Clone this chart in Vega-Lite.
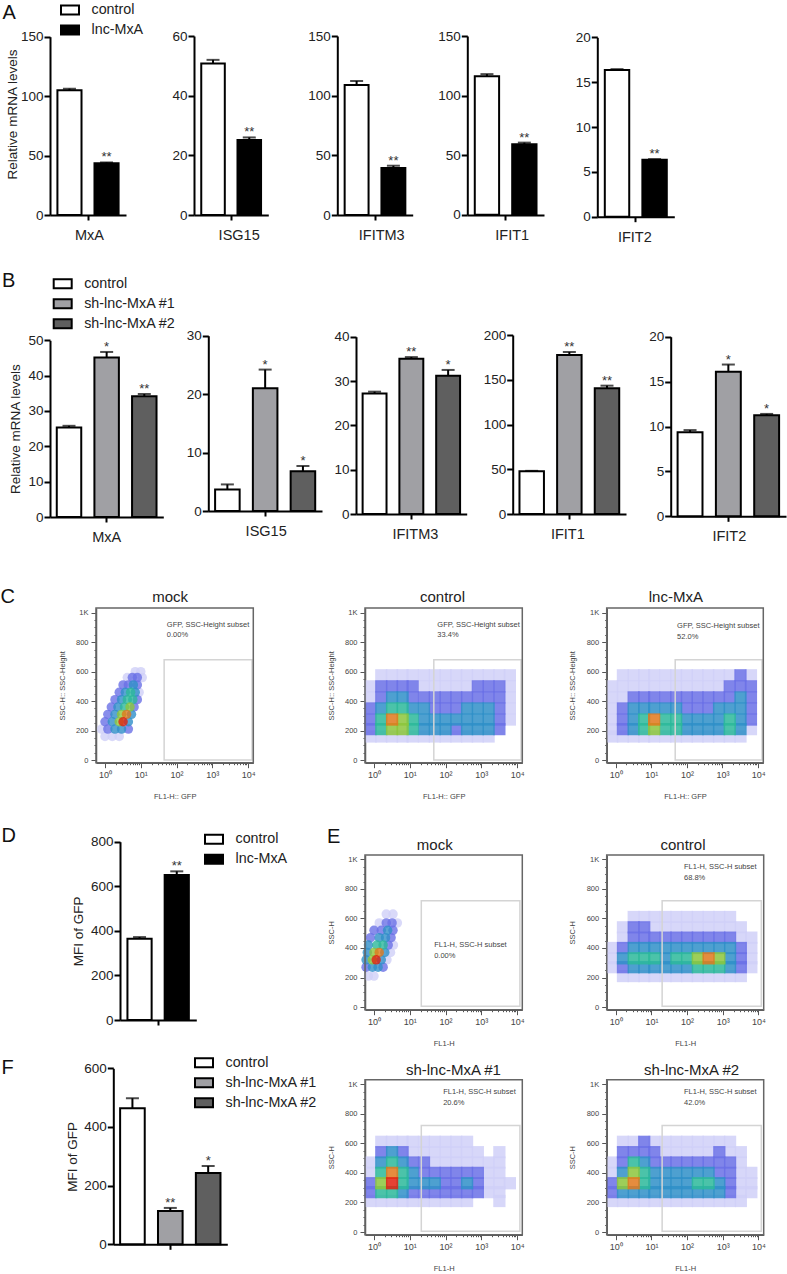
{"$schema":"https://vega.github.io/schema/vega-lite/v6.json","width":787,"height":1274,"autosize":{"type":"none"},"padding":0,"background":"white",
"config":{"font":"Liberation Sans","view":{"stroke":null},
"axis":{"grid":false,"domainColor":"black","domainWidth":2,"tickColor":"black","tickWidth":2,"tickSize":6,"labelFontSize":13.5,"labelColor":"#222","labelPadding":1,"titleFontWeight":"normal","titleFontSize":13.5,"titleColor":"#222","titleBaseline":"middle"},
"axisX":{"labelAngle":0,"tickSize":5,"labelFontSize":14.5,"labelPadding":8.5,"title":null},
"legend":{"title":null,"symbolType":"M-1,-0.5H1V0.5H-1Z","symbolSize":324,"symbolStrokeColor":"black","symbolStrokeWidth":2,"labelFontSize":14.3,"labelColor":"#222","labelOffset":11.5,"rowPadding":1,"symbolOpacity":1},
"style":{"flow":{"domainColor":"#555","domainWidth":1.5,"tickColor":"#555","tickWidth":1,"labelFontSize":7.5,"labelColor":"#444","labelPadding":3,"titleFontSize":7.5,"titleColor":"#444"},
"gate":{"fill":null,"fillOpacity":0,"stroke":"#d4d4d4","strokeWidth":1.5},"frame":{"fill":null,"fillOpacity":0,"stroke":"#666","strokeWidth":1.5},
"ttl":{"fontSize":15,"align":"center","baseline":"middle","color":"#222"},"sub":{"fontSize":7.5,"align":"left","baseline":"middle","color":"#444"},
"let":{"fontSize":20,"align":"left","baseline":"alphabetic","color":"#111"},"star":{"fontSize":13,"baseline":"alphabetic","dy":-1,"color":"#333"}}},
"datasets":{
"c1":[{"x":1,"y":160,"d":1},{"x":1.6,"y":160,"d":1},{"x":2.5,"y":160,"d":1},{"x":0.8,"y":210,"d":1},{"x":1.2,"y":210,"d":2},{"x":1.9,"y":210,"d":3},{"x":2.9,"y":210,"d":3},{"x":4.5,"y":210,"d":2},{"x":1,"y":260,"d":2},{"x":1.6,"y":260,"d":3},{"x":2.5,"y":260,"d":5},{"x":3.2,"y":260,"d":7},{"x":4.5,"y":260,"d":3},{"x":1.2,"y":310,"d":2},{"x":1.9,"y":310,"d":3},{"x":2.9,"y":310,"d":5},{"x":4,"y":310,"d":6},{"x":5.5,"y":310,"d":3},{"x":1.5,"y":360,"d":2},{"x":2.3,"y":360,"d":3},{"x":3.5,"y":360,"d":4},{"x":5,"y":360,"d":5},{"x":6.5,"y":360,"d":2},{"x":1.9,"y":410,"d":2},{"x":2.9,"y":410,"d":3},{"x":4.2,"y":410,"d":4},{"x":6,"y":410,"d":4},{"x":8,"y":410,"d":2},{"x":2.5,"y":460,"d":2},{"x":3.7,"y":460,"d":3},{"x":5.2,"y":460,"d":4},{"x":7,"y":460,"d":3},{"x":9,"y":460,"d":1},{"x":3.2,"y":510,"d":2},{"x":4.5,"y":510,"d":2},{"x":6.2,"y":510,"d":3},{"x":8,"y":510,"d":2},{"x":4.2,"y":560,"d":1},{"x":5.8,"y":560,"d":2},{"x":8,"y":560,"d":2},{"x":11,"y":560,"d":1},{"x":7,"y":600,"d":1},{"x":10,"y":600,"d":1}],
"c2":[{"x":1.6,"y":575,"d":1},{"x":3.2,"y":575,"d":1},{"x":6.3,"y":575,"d":1},{"x":12,"y":575,"d":1},{"x":25,"y":575,"d":1},{"x":50,"y":575,"d":1},{"x":100,"y":575,"d":1},{"x":200,"y":575,"d":1},{"x":400,"y":575,"d":1},{"x":800,"y":575,"d":1},{"x":1600,"y":575,"d":1},{"x":3200,"y":575,"d":1},{"x":6300,"y":575,"d":1},
{"x":0.8,"y":500,"d":1},{"x":1.6,"y":500,"d":2},{"x":3.2,"y":500,"d":2},{"x":6.3,"y":500,"d":2},{"x":12,"y":500,"d":2},{"x":25,"y":500,"d":1},{"x":50,"y":500,"d":1},{"x":100,"y":500,"d":1},{"x":200,"y":500,"d":1},{"x":400,"y":500,"d":1},{"x":800,"y":500,"d":2},{"x":1600,"y":500,"d":2},{"x":3200,"y":500,"d":2},{"x":6300,"y":500,"d":1},
{"x":0.8,"y":425,"d":1},{"x":1.6,"y":425,"d":2},{"x":3.2,"y":425,"d":3},{"x":6.3,"y":425,"d":3},{"x":12,"y":425,"d":2},{"x":25,"y":425,"d":2},{"x":50,"y":425,"d":2},{"x":100,"y":425,"d":2},{"x":200,"y":425,"d":2},{"x":400,"y":425,"d":2},{"x":800,"y":425,"d":2},{"x":1600,"y":425,"d":2},{"x":3200,"y":425,"d":2},{"x":6300,"y":425,"d":1},
{"x":0.8,"y":350,"d":2},{"x":1.6,"y":350,"d":3},{"x":3.2,"y":350,"d":4},{"x":6.3,"y":350,"d":4},{"x":12,"y":350,"d":3},{"x":25,"y":350,"d":3},{"x":50,"y":350,"d":2},{"x":100,"y":350,"d":2},{"x":200,"y":350,"d":2},{"x":400,"y":350,"d":3},{"x":800,"y":350,"d":3},{"x":1600,"y":350,"d":3},{"x":3200,"y":350,"d":2},{"x":6300,"y":350,"d":1},
{"x":0.8,"y":275,"d":2},{"x":1.6,"y":275,"d":4},{"x":3.2,"y":275,"d":6},{"x":6.3,"y":275,"d":5},{"x":12,"y":275,"d":4},{"x":25,"y":275,"d":3},{"x":50,"y":275,"d":3},{"x":100,"y":275,"d":3},{"x":200,"y":275,"d":3},{"x":400,"y":275,"d":3},{"x":800,"y":275,"d":3},{"x":1600,"y":275,"d":3},{"x":3200,"y":275,"d":2},{"x":6300,"y":275,"d":1},
{"x":0.8,"y":210,"d":2},{"x":1.6,"y":210,"d":4},{"x":3.2,"y":210,"d":5},{"x":6.3,"y":210,"d":5},{"x":12,"y":210,"d":4},{"x":25,"y":210,"d":3},{"x":50,"y":210,"d":3},{"x":100,"y":210,"d":3},{"x":200,"y":210,"d":2},{"x":400,"y":210,"d":3},{"x":800,"y":210,"d":3},{"x":1600,"y":210,"d":3},{"x":3200,"y":210,"d":2},
{"x":0.8,"y":160,"d":1},{"x":1.6,"y":160,"d":1},{"x":3.2,"y":160,"d":1},{"x":6.3,"y":160,"d":1},{"x":12,"y":160,"d":1},{"x":25,"y":160,"d":1},{"x":50,"y":160,"d":1},{"x":100,"y":160,"d":1},{"x":200,"y":160,"d":1},{"x":400,"y":160,"d":1},{"x":800,"y":160,"d":1},{"x":1600,"y":160,"d":1}],
"c3":[{"x":1.6,"y":575,"d":1},{"x":3.2,"y":575,"d":1},{"x":6.3,"y":575,"d":1},{"x":12,"y":575,"d":1},{"x":25,"y":575,"d":1},{"x":50,"y":575,"d":1},{"x":100,"y":575,"d":1},{"x":200,"y":575,"d":1},{"x":400,"y":575,"d":1},{"x":800,"y":575,"d":1},{"x":1600,"y":575,"d":1},{"x":3200,"y":575,"d":2},{"x":6300,"y":575,"d":1},
{"x":0.8,"y":500,"d":1},{"x":1.6,"y":500,"d":1},{"x":3.2,"y":500,"d":1},{"x":6.3,"y":500,"d":1},{"x":12,"y":500,"d":1},{"x":25,"y":500,"d":1},{"x":50,"y":500,"d":1},{"x":100,"y":500,"d":1},{"x":200,"y":500,"d":1},{"x":400,"y":500,"d":1},{"x":800,"y":500,"d":1},{"x":1600,"y":500,"d":2},{"x":3200,"y":500,"d":2},{"x":6300,"y":500,"d":2},
{"x":0.8,"y":425,"d":1},{"x":1.6,"y":425,"d":1},{"x":3.2,"y":425,"d":2},{"x":6.3,"y":425,"d":2},{"x":12,"y":425,"d":2},{"x":25,"y":425,"d":2},{"x":50,"y":425,"d":2},{"x":100,"y":425,"d":2},{"x":200,"y":425,"d":2},{"x":400,"y":425,"d":2},{"x":800,"y":425,"d":2},{"x":1600,"y":425,"d":2},{"x":3200,"y":425,"d":3},{"x":6300,"y":425,"d":2},
{"x":0.8,"y":350,"d":1},{"x":1.6,"y":350,"d":2},{"x":3.2,"y":350,"d":3},{"x":6.3,"y":350,"d":3},{"x":12,"y":350,"d":3},{"x":25,"y":350,"d":3},{"x":50,"y":350,"d":3},{"x":100,"y":350,"d":2},{"x":200,"y":350,"d":2},{"x":400,"y":350,"d":2},{"x":800,"y":350,"d":3},{"x":1600,"y":350,"d":3},{"x":3200,"y":350,"d":3},{"x":6300,"y":350,"d":2},
{"x":0.8,"y":275,"d":1},{"x":1.6,"y":275,"d":2},{"x":3.2,"y":275,"d":3},{"x":6.3,"y":275,"d":4},{"x":12,"y":275,"d":6},{"x":25,"y":275,"d":4},{"x":50,"y":275,"d":4},{"x":100,"y":275,"d":3},{"x":200,"y":275,"d":3},{"x":400,"y":275,"d":3},{"x":800,"y":275,"d":3},{"x":1600,"y":275,"d":4},{"x":3200,"y":275,"d":3},{"x":6300,"y":275,"d":2},
{"x":0.8,"y":210,"d":1},{"x":1.6,"y":210,"d":2},{"x":3.2,"y":210,"d":3},{"x":6.3,"y":210,"d":4},{"x":12,"y":210,"d":5},{"x":25,"y":210,"d":4},{"x":50,"y":210,"d":4},{"x":100,"y":210,"d":3},{"x":200,"y":210,"d":3},{"x":400,"y":210,"d":3},{"x":800,"y":210,"d":3},{"x":1600,"y":210,"d":4},{"x":3200,"y":210,"d":3},{"x":6300,"y":210,"d":1},
{"x":0.8,"y":160,"d":1},{"x":1.6,"y":160,"d":1},{"x":3.2,"y":160,"d":1},{"x":6.3,"y":160,"d":1},{"x":12,"y":160,"d":1},{"x":25,"y":160,"d":1},{"x":50,"y":160,"d":1},{"x":100,"y":160,"d":1},{"x":200,"y":160,"d":1},{"x":400,"y":160,"d":1},{"x":800,"y":160,"d":1},{"x":1600,"y":160,"d":1},{"x":3200,"y":160,"d":1}],
"e1":[{"x":0.7,"y":210,"d":1},{"x":1,"y":210,"d":1},{"x":0.6,"y":270,"d":2},{"x":0.9,"y":270,"d":3},{"x":1.3,"y":270,"d":3},{"x":1.8,"y":270,"d":2},{"x":0.6,"y":320,"d":3},{"x":0.9,"y":320,"d":5},{"x":1.15,"y":320,"d":7},{"x":1.6,"y":320,"d":3},{"x":2.3,"y":320,"d":1},{"x":0.65,"y":370,"d":3},{"x":1,"y":370,"d":5},{"x":1.4,"y":370,"d":6},{"x":2,"y":370,"d":3},{"x":2.9,"y":370,"d":1},{"x":0.7,"y":420,"d":3},{"x":1.2,"y":420,"d":4},{"x":1.8,"y":420,"d":4},{"x":2.5,"y":420,"d":2},{"x":3.5,"y":420,"d":1},{"x":0.8,"y":470,"d":2},{"x":1.4,"y":470,"d":3},{"x":2.1,"y":470,"d":3},{"x":3,"y":470,"d":2},{"x":1,"y":520,"d":2},{"x":1.6,"y":520,"d":2},{"x":2.4,"y":520,"d":3},{"x":3.4,"y":520,"d":2},{"x":1.4,"y":570,"d":1},{"x":2.2,"y":570,"d":2},{"x":3.2,"y":570,"d":2},{"x":4.5,"y":570,"d":1},{"x":2.2,"y":630,"d":1},{"x":3.4,"y":630,"d":1}],
"e2":[{"x":3.2,"y":610,"d":1},{"x":6.3,"y":610,"d":1},{"x":12,"y":610,"d":1},{"x":25,"y":610,"d":1},{"x":50,"y":610,"d":1},{"x":100,"y":610,"d":1},{"x":200,"y":610,"d":1},{"x":400,"y":610,"d":1},{"x":800,"y":610,"d":1},{"x":1600,"y":610,"d":1},
{"x":1.6,"y":540,"d":1},{"x":3.2,"y":540,"d":2},{"x":6.3,"y":540,"d":2},{"x":12,"y":540,"d":1},{"x":25,"y":540,"d":1},{"x":50,"y":540,"d":1},{"x":100,"y":540,"d":1},{"x":200,"y":540,"d":1},{"x":400,"y":540,"d":1},{"x":800,"y":540,"d":1},{"x":1600,"y":540,"d":1},{"x":3200,"y":540,"d":1},
{"x":1.6,"y":470,"d":1},{"x":3.2,"y":470,"d":2},{"x":6.3,"y":470,"d":2},{"x":12,"y":470,"d":2},{"x":25,"y":470,"d":2},{"x":50,"y":470,"d":2},{"x":100,"y":470,"d":2},{"x":200,"y":470,"d":2},{"x":400,"y":470,"d":2},{"x":800,"y":470,"d":2},{"x":1600,"y":470,"d":2},{"x":3200,"y":470,"d":1},{"x":6300,"y":470,"d":1},
{"x":0.8,"y":400,"d":1},{"x":1.6,"y":400,"d":2},{"x":3.2,"y":400,"d":3},{"x":6.3,"y":400,"d":3},{"x":12,"y":400,"d":3},{"x":25,"y":400,"d":3},{"x":50,"y":400,"d":3},{"x":100,"y":400,"d":3},{"x":200,"y":400,"d":3},{"x":400,"y":400,"d":3},{"x":800,"y":400,"d":3},{"x":1600,"y":400,"d":3},{"x":3200,"y":400,"d":2},{"x":6300,"y":400,"d":1},
{"x":0.8,"y":330,"d":1},{"x":1.6,"y":330,"d":3},{"x":3.2,"y":330,"d":4},{"x":6.3,"y":330,"d":4},{"x":12,"y":330,"d":4},{"x":25,"y":330,"d":3},{"x":50,"y":330,"d":4},{"x":100,"y":330,"d":4},{"x":200,"y":330,"d":5},{"x":400,"y":330,"d":6},{"x":800,"y":330,"d":5},{"x":1600,"y":330,"d":3},{"x":3200,"y":330,"d":2},{"x":6300,"y":330,"d":1},
{"x":0.8,"y":270,"d":1},{"x":1.6,"y":270,"d":2},{"x":3.2,"y":270,"d":3},{"x":6.3,"y":270,"d":3},{"x":12,"y":270,"d":3},{"x":25,"y":270,"d":3},{"x":50,"y":270,"d":3},{"x":100,"y":270,"d":3},{"x":200,"y":270,"d":4},{"x":400,"y":270,"d":4},{"x":800,"y":270,"d":4},{"x":1600,"y":270,"d":3},{"x":3200,"y":270,"d":2},{"x":6300,"y":270,"d":1},
{"x":1.6,"y":210,"d":1},{"x":3.2,"y":210,"d":1},{"x":6.3,"y":210,"d":1},{"x":12,"y":210,"d":1},{"x":25,"y":210,"d":1},{"x":50,"y":210,"d":1},{"x":100,"y":210,"d":1},{"x":200,"y":210,"d":1},{"x":400,"y":210,"d":1},{"x":800,"y":210,"d":1},{"x":1600,"y":210,"d":1},{"x":3200,"y":210,"d":1}],
"f1":[{"x":1.6,"y":610,"d":1},{"x":3.2,"y":610,"d":1},{"x":6.3,"y":610,"d":1},{"x":12,"y":610,"d":1},{"x":25,"y":610,"d":1},{"x":50,"y":610,"d":1},{"x":100,"y":610,"d":1},{"x":200,"y":610,"d":1},{"x":400,"y":610,"d":1},
{"x":1.6,"y":540,"d":2},{"x":3.2,"y":540,"d":3},{"x":6.3,"y":540,"d":2},{"x":12,"y":540,"d":1},{"x":25,"y":540,"d":1},{"x":50,"y":540,"d":1},{"x":100,"y":540,"d":1},{"x":200,"y":540,"d":1},{"x":400,"y":540,"d":1},{"x":800,"y":540,"d":1},{"x":3200,"y":540,"d":1},
{"x":0.8,"y":470,"d":1},{"x":1.6,"y":470,"d":3},{"x":3.2,"y":470,"d":4},{"x":6.3,"y":470,"d":3},{"x":12,"y":470,"d":2},{"x":25,"y":470,"d":2},{"x":50,"y":470,"d":1},{"x":100,"y":470,"d":1},{"x":200,"y":470,"d":1},{"x":400,"y":470,"d":1},{"x":800,"y":470,"d":1},{"x":1600,"y":470,"d":1},{"x":3200,"y":470,"d":1},
{"x":0.8,"y":400,"d":1},{"x":1.6,"y":400,"d":4},{"x":3.2,"y":400,"d":6},{"x":6.3,"y":400,"d":4},{"x":12,"y":400,"d":3},{"x":25,"y":400,"d":2},{"x":50,"y":400,"d":2},{"x":100,"y":400,"d":2},{"x":200,"y":400,"d":2},{"x":400,"y":400,"d":2},{"x":800,"y":400,"d":2},{"x":1600,"y":400,"d":1},{"x":3200,"y":400,"d":1},
{"x":0.8,"y":330,"d":2},{"x":1.6,"y":330,"d":5},{"x":3.2,"y":330,"d":7},{"x":6.3,"y":330,"d":4},{"x":12,"y":330,"d":3},{"x":25,"y":330,"d":3},{"x":50,"y":330,"d":3},{"x":100,"y":330,"d":2},{"x":200,"y":330,"d":2},{"x":400,"y":330,"d":3},{"x":800,"y":330,"d":2},{"x":1600,"y":330,"d":1},{"x":3200,"y":330,"d":1},{"x":6300,"y":330,"d":1},
{"x":0.8,"y":270,"d":2},{"x":1.6,"y":270,"d":4},{"x":3.2,"y":270,"d":4},{"x":6.3,"y":270,"d":3},{"x":12,"y":270,"d":2},{"x":25,"y":270,"d":2},{"x":50,"y":270,"d":2},{"x":100,"y":270,"d":2},{"x":200,"y":270,"d":2},{"x":400,"y":270,"d":2},{"x":800,"y":270,"d":2},{"x":1600,"y":270,"d":1},{"x":3200,"y":270,"d":1},
{"x":0.8,"y":210,"d":1},{"x":1.6,"y":210,"d":1},{"x":3.2,"y":210,"d":1},{"x":6.3,"y":210,"d":1},{"x":12,"y":210,"d":1},{"x":25,"y":210,"d":1},{"x":50,"y":210,"d":1},{"x":100,"y":210,"d":1},{"x":200,"y":210,"d":1},{"x":400,"y":210,"d":1},{"x":3200,"y":210,"d":1}],
"f2":[{"x":1.6,"y":610,"d":1},{"x":3.2,"y":610,"d":1},{"x":6.3,"y":610,"d":2},{"x":12,"y":610,"d":1},{"x":25,"y":610,"d":1},{"x":50,"y":610,"d":1},{"x":100,"y":610,"d":1},{"x":200,"y":610,"d":1},{"x":400,"y":610,"d":1},{"x":800,"y":610,"d":1},{"x":1600,"y":610,"d":1},
{"x":1.6,"y":540,"d":2},{"x":3.2,"y":540,"d":2},{"x":6.3,"y":540,"d":2},{"x":12,"y":540,"d":2},{"x":25,"y":540,"d":1},{"x":50,"y":540,"d":1},{"x":100,"y":540,"d":1},{"x":200,"y":540,"d":1},{"x":400,"y":540,"d":1},{"x":800,"y":540,"d":2},{"x":1600,"y":540,"d":1},{"x":3200,"y":540,"d":1},
{"x":0.8,"y":470,"d":1},{"x":1.6,"y":470,"d":2},{"x":3.2,"y":470,"d":4},{"x":6.3,"y":470,"d":3},{"x":12,"y":470,"d":2},{"x":25,"y":470,"d":2},{"x":50,"y":470,"d":2},{"x":100,"y":470,"d":2},{"x":200,"y":470,"d":2},{"x":400,"y":470,"d":2},{"x":800,"y":470,"d":2},{"x":1600,"y":470,"d":2},{"x":3200,"y":470,"d":1},
{"x":0.8,"y":400,"d":1},{"x":1.6,"y":400,"d":3},{"x":3.2,"y":400,"d":5},{"x":6.3,"y":400,"d":4},{"x":12,"y":400,"d":3},{"x":25,"y":400,"d":3},{"x":50,"y":400,"d":3},{"x":100,"y":400,"d":3},{"x":200,"y":400,"d":3},{"x":400,"y":400,"d":3},{"x":800,"y":400,"d":2},{"x":1600,"y":400,"d":2},{"x":3200,"y":400,"d":1},{"x":6300,"y":400,"d":1},
{"x":0.8,"y":330,"d":2},{"x":1.6,"y":330,"d":5},{"x":3.2,"y":330,"d":6},{"x":6.3,"y":330,"d":4},{"x":12,"y":330,"d":3},{"x":25,"y":330,"d":3},{"x":50,"y":330,"d":3},{"x":100,"y":330,"d":3},{"x":200,"y":330,"d":4},{"x":400,"y":330,"d":4},{"x":800,"y":330,"d":3},{"x":1600,"y":330,"d":2},{"x":3200,"y":330,"d":1},{"x":6300,"y":330,"d":1},
{"x":0.8,"y":270,"d":2},{"x":1.6,"y":270,"d":3},{"x":3.2,"y":270,"d":3},{"x":6.3,"y":270,"d":3},{"x":12,"y":270,"d":3},{"x":25,"y":270,"d":3},{"x":50,"y":270,"d":3},{"x":100,"y":270,"d":3},{"x":200,"y":270,"d":3},{"x":400,"y":270,"d":3},{"x":800,"y":270,"d":3},{"x":1600,"y":270,"d":2},{"x":3200,"y":270,"d":1},{"x":6300,"y":270,"d":1},
{"x":0.8,"y":210,"d":1},{"x":1.6,"y":210,"d":1},{"x":3.2,"y":210,"d":1},{"x":6.3,"y":210,"d":1},{"x":12,"y":210,"d":1},{"x":25,"y":210,"d":1},{"x":50,"y":210,"d":1},{"x":100,"y":210,"d":1},{"x":200,"y":210,"d":1},{"x":400,"y":210,"d":1},{"x":800,"y":210,"d":1},{"x":1600,"y":210,"d":1},{"x":3200,"y":210,"d":1}]
},
"layer":[
{"data":{"values":[{"n":"MxA","g":"control","v":105,"e":106.3,"s":""},{"n":"MxA","g":"lnc-MxA","v":43.6,"e":44.2,"s":"**"}]},"encoding":{"x":{"field":"n","type":"nominal","scale":{"range":[50,126],"paddingInner":0,"paddingOuter":0},"axis":{"orient":"bottom","offset":-1059,"labelOffset":1.5}},"xOffset":{"field":"g","type":"nominal","scale":{"paddingInner":0.35,"paddingOuter":0.2}},"y":{"field":"v","type":"quantitative","scale":{"domain":[0,150],"range":[215,36.7],"nice":false},"axis":{"orient":"left","offset":-50,"values":[0,50,100,150],"title":"Relative mRNA levels","titleX":-38,"titleY":114}}},
"layer":[{"mark":{"type":"bar","stroke":"black","strokeWidth":2},"encoding":{"color":{"field":"g","type":"nominal","scale":{"domain":["control","lnc-MxA"],"range":["#ffffff","#000000"]},"legend":{"orient":"none","legendX":60,"legendY":0}}}},{"mark":{"type":"rule","color":"black","strokeWidth":2},"encoding":{"y2":{"field":"e"}}},{"mark":{"type":"tick","color":"black","thickness":2,"size":13},"encoding":{"y":{"field":"e","type":"quantitative"}}},{"mark":{"type":"text","style":"star"},"encoding":{"y":{"field":"e","type":"quantitative"},"text":{"field":"s"}}},{"data":{"values":[{"n":"MxA","g":"control","v":165,"s":"A"}]},"mark":{"type":"text","style":"let","dx":-67},"encoding":{"text":{"field":"s"}}}]},
{"data":{"values":[{"n":"ISG15","g":"control","v":50.8,"e":52,"s":""},{"n":"ISG15","g":"lnc-MxA","v":25.1,"e":26,"s":"**"}]},"encoding":{"x":{"field":"n","type":"nominal","scale":{"range":[194,268.3],"paddingInner":0,"paddingOuter":0},"axis":{"orient":"bottom","offset":-1059,"labelOffset":8}},"xOffset":{"field":"g","type":"nominal","scale":{"paddingInner":0.35,"paddingOuter":0.2}},"y":{"field":"v","type":"quantitative","scale":{"domain":[0,60],"range":[215,36],"nice":false},"axis":{"orient":"left","offset":-194,"values":[0,20,40,60],"title":null}}},
"layer":[{"mark":{"type":"bar","stroke":"black","strokeWidth":2},"encoding":{"color":{"field":"g","type":"nominal","scale":{"domain":["control","lnc-MxA"],"range":["#ffffff","#000000"]},"legend":null}}},{"mark":{"type":"rule","color":"black","strokeWidth":2},"encoding":{"y2":{"field":"e"}}},{"mark":{"type":"tick","color":"black","thickness":2,"size":13},"encoding":{"y":{"field":"e","type":"quantitative"}}},{"mark":{"type":"text","style":"star"},"encoding":{"y":{"field":"e","type":"quantitative"},"text":{"field":"s"}}}]},
{"data":{"values":[{"n":"IFITM3","g":"control","v":108.9,"e":112.3,"s":""},{"n":"IFITM3","g":"lnc-MxA","v":39.3,"e":41.3,"s":"**"}]},"encoding":{"x":{"field":"n","type":"nominal","scale":{"range":[337.3,412.7],"paddingInner":0,"paddingOuter":0},"axis":{"orient":"bottom","offset":-1059,"labelOffset":6.7}},"xOffset":{"field":"g","type":"nominal","scale":{"paddingInner":0.35,"paddingOuter":0.2}},"y":{"field":"v","type":"quantitative","scale":{"domain":[0,150],"range":[215,36],"nice":false},"axis":{"orient":"left","offset":-337.3,"values":[0,50,100,150],"title":null}}},
"layer":[{"mark":{"type":"bar","stroke":"black","strokeWidth":2},"encoding":{"color":{"field":"g","type":"nominal","scale":{"domain":["control","lnc-MxA"],"range":["#ffffff","#000000"]},"legend":null}}},{"mark":{"type":"rule","color":"black","strokeWidth":2},"encoding":{"y2":{"field":"e"}}},{"mark":{"type":"tick","color":"black","thickness":2,"size":13},"encoding":{"y":{"field":"e","type":"quantitative"}}},{"mark":{"type":"text","style":"star"},"encoding":{"y":{"field":"e","type":"quantitative"},"text":{"field":"s"}}}]},
{"data":{"values":[{"n":"IFIT1","g":"control","v":116.2,"e":118,"s":""},{"n":"IFIT1","g":"lnc-MxA","v":59.1,"e":60.5,"s":"**"}]},"encoding":{"x":{"field":"n","type":"nominal","scale":{"range":[467.3,544],"paddingInner":0,"paddingOuter":0},"axis":{"orient":"bottom","offset":-1059,"labelOffset":6.6}},"xOffset":{"field":"g","type":"nominal","scale":{"paddingInner":0.35,"paddingOuter":0.2}},"y":{"field":"v","type":"quantitative","scale":{"domain":[0,150],"range":[214.7,36],"nice":false},"axis":{"orient":"left","offset":-467.3,"values":[0,50,100,150],"title":null}}},
"layer":[{"mark":{"type":"bar","stroke":"black","strokeWidth":2},"encoding":{"color":{"field":"g","type":"nominal","scale":{"domain":["control","lnc-MxA"],"range":["#ffffff","#000000"]},"legend":null}}},{"mark":{"type":"rule","color":"black","strokeWidth":2},"encoding":{"y2":{"field":"e"}}},{"mark":{"type":"tick","color":"black","thickness":2,"size":13},"encoding":{"y":{"field":"e","type":"quantitative"}}},{"mark":{"type":"text","style":"star"},"encoding":{"y":{"field":"e","type":"quantitative"},"text":{"field":"s"}}}]},
{"data":{"values":[{"n":"IFIT2","g":"control","v":16.35,"e":16.45,"s":""},{"n":"IFIT2","g":"lnc-MxA","v":6.35,"e":6.42,"s":"**"}]},"encoding":{"x":{"field":"n","type":"nominal","scale":{"range":[597.3,674.3],"paddingInner":0,"paddingOuter":0},"axis":{"orient":"bottom","offset":-1057.3,"labelOffset":-1}},"xOffset":{"field":"g","type":"nominal","scale":{"paddingInner":0.35,"paddingOuter":0.2}},"y":{"field":"v","type":"quantitative","scale":{"domain":[0,20],"range":[216.7,37.3],"nice":false},"axis":{"orient":"left","offset":-597.3,"values":[0,5,10,15,20],"title":null}}},
"layer":[{"mark":{"type":"bar","stroke":"black","strokeWidth":2},"encoding":{"color":{"field":"g","type":"nominal","scale":{"domain":["control","lnc-MxA"],"range":["#ffffff","#000000"]},"legend":null}}},{"mark":{"type":"rule","color":"black","strokeWidth":2},"encoding":{"y2":{"field":"e"}}},{"mark":{"type":"tick","color":"black","thickness":2,"size":13},"encoding":{"y":{"field":"e","type":"quantitative"}}},{"mark":{"type":"text","style":"star"},"encoding":{"y":{"field":"e","type":"quantitative"},"text":{"field":"s"}}}]},
{"data":{"values":[{"n":"MxA","g":"control","v":25.3,"e":25.8,"s":""},{"n":"MxA","g":"sh-lnc-MxA #1","v":45.1,"e":46.7,"s":"*"},{"n":"MxA","g":"sh-lnc-MxA #2","v":34.2,"e":34.8,"s":"**"}]},"encoding":{"x":{"field":"n","type":"nominal","scale":{"range":[50,163.3],"paddingInner":0,"paddingOuter":0},"axis":{"orient":"bottom","offset":-757}},"xOffset":{"field":"g","type":"nominal","scale":{"paddingInner":0.35,"paddingOuter":0.18}},"y":{"field":"v","type":"quantitative","scale":{"domain":[0,50],"range":[517,340.3],"nice":false},"axis":{"orient":"left","offset":-50,"values":[0,10,20,30,40,50],"title":"Relative mRNA levels","titleX":-35}}},
"layer":[{"mark":{"type":"bar","stroke":"black","strokeWidth":2},"encoding":{"color":{"field":"g","type":"nominal","scale":{"domain":["control","sh-lnc-MxA #1","sh-lnc-MxA #2"],"range":["#ffffff","#a0a0a4","#5f5f5f"]},"legend":{"orient":"none","legendX":52.7,"legendY":273.7}}}},{"mark":{"type":"rule","color":"black","strokeWidth":2},"encoding":{"y2":{"field":"e"}}},{"mark":{"type":"tick","color":"black","thickness":2,"size":13},"encoding":{"y":{"field":"e","type":"quantitative"}}},{"mark":{"type":"text","style":"star"},"encoding":{"y":{"field":"e","type":"quantitative"},"text":{"field":"s"}}},{"data":{"values":[{"n":"MxA","g":"control","v":65.2,"s":"B"}]},"mark":{"type":"text","style":"let","dx":-67},"encoding":{"text":{"field":"s"}}}]},
{"data":{"values":[{"n":"ISG15","g":"control","v":3.7,"e":4.55,"s":""},{"n":"ISG15","g":"sh-lnc-MxA #1","v":21,"e":24.2,"s":"*"},{"n":"ISG15","g":"sh-lnc-MxA #2","v":6.8,"e":7.7,"s":"*"}]},"encoding":{"x":{"field":"n","type":"nominal","scale":{"range":[208.3,322],"paddingInner":0,"paddingOuter":0},"axis":{"orient":"bottom","offset":-763,"labelOffset":1}},"xOffset":{"field":"g","type":"nominal","scale":{"paddingInner":0.35,"paddingOuter":0.18}},"y":{"field":"v","type":"quantitative","scale":{"domain":[0,30],"range":[511,335.7],"nice":false},"axis":{"orient":"left","offset":-208.3,"values":[0,10,20,30],"title":null}}},
"layer":[{"mark":{"type":"bar","stroke":"black","strokeWidth":2},"encoding":{"color":{"field":"g","type":"nominal","scale":{"domain":["control","sh-lnc-MxA #1","sh-lnc-MxA #2"],"range":["#ffffff","#a0a0a4","#5f5f5f"]},"legend":null}}},{"mark":{"type":"rule","color":"black","strokeWidth":2},"encoding":{"y2":{"field":"e"}}},{"mark":{"type":"tick","color":"black","thickness":2,"size":13},"encoding":{"y":{"field":"e","type":"quantitative"}}},{"mark":{"type":"text","style":"star"},"encoding":{"y":{"field":"e","type":"quantitative"},"text":{"field":"s"}}}]},
{"data":{"values":[{"n":"IFITM3","g":"control","v":27.2,"e":27.6,"s":""},{"n":"IFITM3","g":"sh-lnc-MxA #1","v":35,"e":35.4,"s":"**"},{"n":"IFITM3","g":"sh-lnc-MxA #2","v":31.2,"e":32.5,"s":"*"}]},"encoding":{"x":{"field":"n","type":"nominal","scale":{"range":[356,466.7],"paddingInner":0,"paddingOuter":0},"axis":{"orient":"bottom","offset":-760,"labelOffset":4}},"xOffset":{"field":"g","type":"nominal","scale":{"paddingInner":0.35,"paddingOuter":0.18}},"y":{"field":"v","type":"quantitative","scale":{"domain":[0,40],"range":[514,336.7],"nice":false},"axis":{"orient":"left","offset":-356,"values":[0,10,20,30,40],"title":null}}},
"layer":[{"mark":{"type":"bar","stroke":"black","strokeWidth":2},"encoding":{"color":{"field":"g","type":"nominal","scale":{"domain":["control","sh-lnc-MxA #1","sh-lnc-MxA #2"],"range":["#ffffff","#a0a0a4","#5f5f5f"]},"legend":null}}},{"mark":{"type":"rule","color":"black","strokeWidth":2},"encoding":{"y2":{"field":"e"}}},{"mark":{"type":"tick","color":"black","thickness":2,"size":13},"encoding":{"y":{"field":"e","type":"quantitative"}}},{"mark":{"type":"text","style":"star"},"encoding":{"y":{"field":"e","type":"quantitative"},"text":{"field":"s"}}}]},
{"data":{"values":[{"n":"IFIT1","g":"control","v":47.7,"e":48.2,"s":""},{"n":"IFIT1","g":"sh-lnc-MxA #1","v":177.6,"e":181,"s":"**"},{"n":"IFIT1","g":"sh-lnc-MxA #2","v":140.4,"e":143.4,"s":"**"}]},"encoding":{"x":{"field":"n","type":"nominal","scale":{"range":[512.7,626],"paddingInner":0,"paddingOuter":0},"axis":{"orient":"bottom","offset":-760,"labelOffset":-1.5}},"xOffset":{"field":"g","type":"nominal","scale":{"paddingInner":0.35,"paddingOuter":0.18}},"y":{"field":"v","type":"quantitative","scale":{"domain":[0,200],"range":[514,335],"nice":false},"axis":{"orient":"left","offset":-512.7,"values":[0,50,100,150,200],"title":null}}},
"layer":[{"mark":{"type":"bar","stroke":"black","strokeWidth":2},"encoding":{"color":{"field":"g","type":"nominal","scale":{"domain":["control","sh-lnc-MxA #1","sh-lnc-MxA #2"],"range":["#ffffff","#a0a0a4","#5f5f5f"]},"legend":null}}},{"mark":{"type":"rule","color":"black","strokeWidth":2},"encoding":{"y2":{"field":"e"}}},{"mark":{"type":"tick","color":"black","thickness":2,"size":13},"encoding":{"y":{"field":"e","type":"quantitative"}}},{"mark":{"type":"text","style":"star"},"encoding":{"y":{"field":"e","type":"quantitative"},"text":{"field":"s"}}}]},
{"data":{"values":[{"n":"IFIT2","g":"control","v":9.35,"e":9.6,"s":""},{"n":"IFIT2","g":"sh-lnc-MxA #1","v":16.1,"e":16.9,"s":"*"},{"n":"IFIT2","g":"sh-lnc-MxA #2","v":11.25,"e":11.4,"s":"*"}]},"encoding":{"x":{"field":"n","type":"nominal","scale":{"range":[670.7,786],"paddingInner":0,"paddingOuter":0},"axis":{"orient":"bottom","offset":-757.7,"labelOffset":1}},"xOffset":{"field":"g","type":"nominal","scale":{"paddingInner":0.35,"paddingOuter":0.18}},"y":{"field":"v","type":"quantitative","scale":{"domain":[0,20],"range":[516.3,336.7],"nice":false},"axis":{"orient":"left","offset":-670.7,"values":[0,5,10,15,20],"title":null}}},
"layer":[{"mark":{"type":"bar","stroke":"black","strokeWidth":2},"encoding":{"color":{"field":"g","type":"nominal","scale":{"domain":["control","sh-lnc-MxA #1","sh-lnc-MxA #2"],"range":["#ffffff","#a0a0a4","#5f5f5f"]},"legend":null}}},{"mark":{"type":"rule","color":"black","strokeWidth":2},"encoding":{"y2":{"field":"e"}}},{"mark":{"type":"tick","color":"black","thickness":2,"size":13},"encoding":{"y":{"field":"e","type":"quantitative"}}},{"mark":{"type":"text","style":"star"},"encoding":{"y":{"field":"e","type":"quantitative"},"text":{"field":"s"}}}]},
{"data":{"values":[{"n":" ","g":"control","v":364.8,"e":372,"s":""},{"n":" ","g":"lnc-MxA","v":650.6,"e":667,"s":"**"}]},"encoding":{"x":{"field":"n","type":"nominal","scale":{"range":[120,196.3],"paddingInner":0,"paddingOuter":0},"axis":{"orient":"bottom","offset":-254}},"xOffset":{"field":"g","type":"nominal","scale":{"paddingInner":0.35,"paddingOuter":0.2}},"y":{"field":"v","type":"quantitative","scale":{"domain":[0,800],"range":[1020,841.7],"nice":false},"axis":{"orient":"left","offset":-120,"values":[0,200,400,600,800],"title":"MFI of GFP","titleX":-41.7}}},
"layer":[{"mark":{"type":"bar","stroke":"black","strokeWidth":2},"encoding":{"color":{"field":"g","type":"nominal","scale":{"domain":["control","lnc-MxA"],"range":["#ffffff","#000000"]},"legend":{"orient":"none","legendX":204,"legendY":829.3}}}},{"mark":{"type":"rule","color":"black","strokeWidth":2},"encoding":{"y2":{"field":"e"}}},{"mark":{"type":"tick","color":"black","thickness":2,"size":13},"encoding":{"y":{"field":"e","type":"quantitative"}}},{"mark":{"type":"text","style":"star"},"encoding":{"y":{"field":"e","type":"quantitative"},"text":{"field":"s"}}},{"data":{"values":[{"n":" ","g":"control","v":799,"s":"D"}]},"mark":{"type":"text","style":"let","dx":-138},"encoding":{"text":{"field":"s"}}}]},
{"data":{"values":[{"n":" ","g":"control","v":463.6,"e":498,"s":""},{"n":" ","g":"sh-lnc-MxA #1","v":113.5,"e":124,"s":"**"},{"n":" ","g":"sh-lnc-MxA #2","v":243,"e":267,"s":"*"}]},"encoding":{"x":{"field":"n","type":"nominal","scale":{"range":[113.3,227.3],"paddingInner":0,"paddingOuter":0},"axis":{"orient":"bottom","offset":-29.7}},"xOffset":{"field":"g","type":"nominal","scale":{"paddingInner":0.35,"paddingOuter":0.18}},"y":{"field":"v","type":"quantitative","scale":{"domain":[0,600],"range":[1244.3,1068.3],"nice":false},"axis":{"orient":"left","offset":-113.3,"values":[0,200,400,600],"title":"MFI of GFP","titleX":-41}}},
"layer":[{"mark":{"type":"bar","stroke":"black","strokeWidth":2},"encoding":{"color":{"field":"g","type":"nominal","scale":{"domain":["control","sh-lnc-MxA #1","sh-lnc-MxA #2"],"range":["#ffffff","#a0a0a4","#5f5f5f"]},"legend":{"orient":"none","legendX":194,"legendY":1052.7}}}},{"mark":{"type":"rule","color":"black","strokeWidth":2},"encoding":{"y2":{"field":"e"}}},{"mark":{"type":"tick","color":"black","thickness":2,"size":13},"encoding":{"y":{"field":"e","type":"quantitative"}}},{"mark":{"type":"text","style":"star"},"encoding":{"y":{"field":"e","type":"quantitative"},"text":{"field":"s"}}},{"data":{"values":[{"n":" ","g":"control","v":580,"s":"F"}]},"mark":{"type":"text","style":"let","dx":-131},"encoding":{"text":{"field":"s"}}}]},
{"encoding":{"x":{"field":"x","type":"quantitative","scale":{"type":"log","domain":[0.56,14000],"range":[96,253.3]},"axis":{"orient":"bottom","offset":-511.3,"style":"flow","values":[1,2,3,4,5,6,7,8,9,10,20,30,40,50,60,70,80,90,100,200,300,400,500,600,700,800,900,1000,2000,3000,4000,5000,6000,7000,8000,9000,10000],"labelOverlap":false,"labelFontSize":9,"labelPadding":3,"labelExpr":"datum.value==1?'10⁰':datum.value==10?'10¹':datum.value==100?'10²':datum.value==1000?'10³':datum.value==10000?'10⁴':''","tickSize":{"condition":{"test":"indexof([1,10,100,1000,10000],datum.value)>=0","value":5},"value":2},"title":"FL1-H:: GFP","titleY":34}},"y":{"field":"y","type":"quantitative","scale":{"domain":[-18,1032],"range":[762.7,608],"nice":false},"axis":{"orient":"left","offset":-96,"style":"flow","values":[0,50,100,150,200,250,300,350,400,450,500,550,600,650,700,750,800,850,900,950,1000],"labelExpr":"datum.value==1000?'1K':datum.value%200==0?datum.label:''","labelOverlap":false,"tickSize":{"condition":{"test":"datum.value%200==0","value":5},"value":2},"title":"SSC-H:: SSC-Height","titleX":-34}}},
"layer":[{"data":{"name":"c1"},"mark":{"type":"point","filled":true,"size":90,"opacity":0.8},"encoding":{"color":{"field":"d","type":"ordinal","scale":{"domain":[1,2,3,4,5,6,7],"range":["#d0d0f8","#6a70e6","#2f8fc8","#2cb89a","#8cc63c","#e0781c","#e02010"]},"legend":null},"order":{"field":"d"}}},
{"data":{"values":[{"x":45,"x2":12900,"y":0,"y2":680}]},"mark":{"type":"rect","style":"gate"},"encoding":{"x2":{"field":"x2"},"y2":{"field":"y2"}}},
{"data":{"values":[{"x":0.56,"x2":14000,"y":-18,"y2":1032}]},"mark":{"type":"rect","style":"frame"},"encoding":{"x2":{"field":"x2"},"y2":{"field":"y2"}}},
{"data":{"values":[{"x":66,"y":1104,"t":"mock"}]},"mark":{"type":"text","style":"ttl"},"encoding":{"text":{"field":"t"}}},
{"data":{"values":[{"x":53.5,"y":918,"t":"GFP, SSC-Height subset"},{"x":53.5,"y":846,"t":"0.00%"}]},"mark":{"type":"text","style":"sub"},"encoding":{"text":{"field":"t"}}},
{"data":{"values":[{"x":0.0012,"y":1068,"t":"C"}]},"mark":{"type":"text","style":"let"},"encoding":{"text":{"field":"t"}}}]},
{"encoding":{"x":{"field":"x","type":"quantitative","scale":{"type":"log","domain":[0.56,14000],"range":[365,522.3]},"axis":{"orient":"bottom","offset":-511.3,"style":"flow","values":[1,2,3,4,5,6,7,8,9,10,20,30,40,50,60,70,80,90,100,200,300,400,500,600,700,800,900,1000,2000,3000,4000,5000,6000,7000,8000,9000,10000],"labelOverlap":false,"labelFontSize":9,"labelPadding":3,"labelExpr":"datum.value==1?'10⁰':datum.value==10?'10¹':datum.value==100?'10²':datum.value==1000?'10³':datum.value==10000?'10⁴':''","tickSize":{"condition":{"test":"indexof([1,10,100,1000,10000],datum.value)>=0","value":5},"value":2},"title":"FL1-H:: GFP","titleY":34}},"y":{"field":"y","type":"quantitative","scale":{"domain":[-18,1032],"range":[762.7,608],"nice":false},"axis":{"orient":"left","offset":-365,"style":"flow","values":[0,50,100,150,200,250,300,350,400,450,500,550,600,650,700,750,800,850,900,950,1000],"labelExpr":"datum.value==1000?'1K':datum.value%200==0?datum.label:''","labelOverlap":false,"tickSize":{"condition":{"test":"datum.value%200==0","value":5},"value":2},"title":"SSC-H:: SSC-Height","titleX":-34}}},
"layer":[{"data":{"name":"c2"},"mark":{"type":"point","filled":true,"shape":"square","size":150,"opacity":0.85},"encoding":{"color":{"field":"d","type":"ordinal","scale":{"domain":[1,2,3,4,5,6,7],"range":["#d0d0f8","#6a70e6","#2f8fc8","#2cb89a","#8cc63c","#e0781c","#e02010"]},"legend":null},"order":{"field":"d"}}},
{"data":{"values":[{"x":47,"x2":12900,"y":0,"y2":680}]},"mark":{"type":"rect","style":"gate"},"encoding":{"x2":{"field":"x2"},"y2":{"field":"y2"}}},
{"data":{"values":[{"x":0.56,"x2":14000,"y":-18,"y2":1032}]},"mark":{"type":"rect","style":"frame"},"encoding":{"x2":{"field":"x2"},"y2":{"field":"y2"}}},
{"data":{"values":[{"x":82,"y":1104,"t":"control"}]},"mark":{"type":"text","style":"ttl"},"encoding":{"text":{"field":"t"}}},
{"data":{"values":[{"x":59,"y":918,"t":"GFP, SSC-Height subset"},{"x":59,"y":846,"t":"33.4%"}]},"mark":{"type":"text","style":"sub"},"encoding":{"text":{"field":"t"}}}]},
{"encoding":{"x":{"field":"x","type":"quantitative","scale":{"type":"log","domain":[0.56,14000],"range":[606.7,763.3]},"axis":{"orient":"bottom","offset":-511.3,"style":"flow","values":[1,2,3,4,5,6,7,8,9,10,20,30,40,50,60,70,80,90,100,200,300,400,500,600,700,800,900,1000,2000,3000,4000,5000,6000,7000,8000,9000,10000],"labelOverlap":false,"labelFontSize":9,"labelPadding":3,"labelExpr":"datum.value==1?'10⁰':datum.value==10?'10¹':datum.value==100?'10²':datum.value==1000?'10³':datum.value==10000?'10⁴':''","tickSize":{"condition":{"test":"indexof([1,10,100,1000,10000],datum.value)>=0","value":5},"value":2},"title":"FL1-H:: GFP","titleY":34}},"y":{"field":"y","type":"quantitative","scale":{"domain":[-18,1032],"range":[762.7,608],"nice":false},"axis":{"orient":"left","offset":-606.7,"style":"flow","values":[0,50,100,150,200,250,300,350,400,450,500,550,600,650,700,750,800,850,900,950,1000],"labelExpr":"datum.value==1000?'1K':datum.value%200==0?datum.label:''","labelOverlap":false,"tickSize":{"condition":{"test":"datum.value%200==0","value":5},"value":2},"title":"SSC-H:: SSC-Height","titleX":-34}}},
"layer":[{"data":{"name":"c3"},"mark":{"type":"point","filled":true,"shape":"square","size":150,"opacity":0.85},"encoding":{"color":{"field":"d","type":"ordinal","scale":{"domain":[1,2,3,4,5,6,7],"range":["#d0d0f8","#6a70e6","#2f8fc8","#2cb89a","#8cc63c","#e0781c","#e02010"]},"legend":null},"order":{"field":"d"}}},
{"data":{"values":[{"x":47,"x2":12900,"y":0,"y2":680}]},"mark":{"type":"rect","style":"gate"},"encoding":{"x2":{"field":"x2"},"y2":{"field":"y2"}}},
{"data":{"values":[{"x":0.56,"x2":14000,"y":-18,"y2":1032}]},"mark":{"type":"rect","style":"frame"},"encoding":{"x2":{"field":"x2"},"y2":{"field":"y2"}}},
{"data":{"values":[{"x":49,"y":1104,"t":"lnc-MxA"}]},"mark":{"type":"text","style":"ttl"},"encoding":{"text":{"field":"t"}}},
{"data":{"values":[{"x":53,"y":912,"t":"GFP, SSC-Height subset"},{"x":53,"y":837,"t":"52.0%"}]},"mark":{"type":"text","style":"sub"},"encoding":{"text":{"field":"t"}}}]},
{"encoding":{"x":{"field":"x","type":"quantitative","scale":{"type":"log","domain":[0.56,14000],"range":[365,522.3]},"axis":{"orient":"bottom","offset":-264.3,"style":"flow","values":[1,2,3,4,5,6,7,8,9,10,20,30,40,50,60,70,80,90,100,200,300,400,500,600,700,800,900,1000,2000,3000,4000,5000,6000,7000,8000,9000,10000],"labelOverlap":false,"labelFontSize":9,"labelPadding":3,"labelExpr":"datum.value==1?'10⁰':datum.value==10?'10¹':datum.value==100?'10²':datum.value==1000?'10³':datum.value==10000?'10⁴':''","tickSize":{"condition":{"test":"indexof([1,10,100,1000,10000],datum.value)>=0","value":5},"value":2},"title":"FL1-H","titleY":34}},"y":{"field":"y","type":"quantitative","scale":{"domain":[-18,1030],"range":[1009.7,855],"nice":false},"axis":{"orient":"left","offset":-365,"style":"flow","values":[0,50,100,150,200,250,300,350,400,450,500,550,600,650,700,750,800,850,900,950,1000],"labelExpr":"datum.value==1000?'1K':datum.value%200==0?datum.label:''","labelOverlap":false,"tickSize":{"condition":{"test":"datum.value%200==0","value":5},"value":2},"title":"SSC-H","titleX":-34}}},
"layer":[{"data":{"name":"e1"},"mark":{"type":"point","filled":true,"size":90,"opacity":0.8},"encoding":{"color":{"field":"d","type":"ordinal","scale":{"domain":[1,2,3,4,5,6,7],"range":["#d0d0f8","#6a70e6","#2f8fc8","#2cb89a","#8cc63c","#e0781c","#e02010"]},"legend":null},"order":{"field":"d"}}},
{"data":{"values":[{"x":21,"x2":12000,"y":5,"y2":720}]},"mark":{"type":"rect","style":"gate"},"encoding":{"x2":{"field":"x2"},"y2":{"field":"y2"}}},
{"data":{"values":[{"x":0.56,"x2":14000,"y":-18,"y2":1030}]},"mark":{"type":"rect","style":"frame"},"encoding":{"x2":{"field":"x2"},"y2":{"field":"y2"}}},
{"data":{"values":[{"x":50,"y":1101,"t":"mock"}]},"mark":{"type":"text","style":"ttl"},"encoding":{"text":{"field":"t"}}},
{"data":{"values":[{"x":48,"y":418,"t":"FL1-H, SSC-H subset"},{"x":48,"y":343,"t":"0.00%"}]},"mark":{"type":"text","style":"sub"},"encoding":{"text":{"field":"t"}}},
{"data":{"values":[{"x":0.0485,"y":1110,"t":"E"}]},"mark":{"type":"text","style":"let"},"encoding":{"text":{"field":"t"}}}]},
{"encoding":{"x":{"field":"x","type":"quantitative","scale":{"type":"log","domain":[0.56,14000],"range":[606.7,763.7]},"axis":{"orient":"bottom","offset":-264.3,"style":"flow","values":[1,2,3,4,5,6,7,8,9,10,20,30,40,50,60,70,80,90,100,200,300,400,500,600,700,800,900,1000,2000,3000,4000,5000,6000,7000,8000,9000,10000],"labelOverlap":false,"labelFontSize":9,"labelPadding":3,"labelExpr":"datum.value==1?'10⁰':datum.value==10?'10¹':datum.value==100?'10²':datum.value==1000?'10³':datum.value==10000?'10⁴':''","tickSize":{"condition":{"test":"indexof([1,10,100,1000,10000],datum.value)>=0","value":5},"value":2},"title":"FL1-H","titleY":34}},"y":{"field":"y","type":"quantitative","scale":{"domain":[-18,1030],"range":[1009.7,855],"nice":false},"axis":{"orient":"left","offset":-606.7,"style":"flow","values":[0,50,100,150,200,250,300,350,400,450,500,550,600,650,700,750,800,850,900,950,1000],"labelExpr":"datum.value==1000?'1K':datum.value%200==0?datum.label:''","labelOverlap":false,"tickSize":{"condition":{"test":"datum.value%200==0","value":5},"value":2},"title":"SSC-H","titleX":-34}}},
"layer":[{"data":{"name":"e2"},"mark":{"type":"point","filled":true,"shape":"square","size":150,"opacity":0.85},"encoding":{"color":{"field":"d","type":"ordinal","scale":{"domain":[1,2,3,4,5,6,7],"range":["#d0d0f8","#6a70e6","#2f8fc8","#2cb89a","#8cc63c","#e0781c","#e02010"]},"legend":null},"order":{"field":"d"}}},
{"data":{"values":[{"x":20,"x2":12000,"y":5,"y2":720}]},"mark":{"type":"rect","style":"gate"},"encoding":{"x2":{"field":"x2"},"y2":{"field":"y2"}}},
{"data":{"values":[{"x":0.56,"x2":14000,"y":-18,"y2":1030}]},"mark":{"type":"rect","style":"frame"},"encoding":{"x2":{"field":"x2"},"y2":{"field":"y2"}}},
{"data":{"values":[{"x":77,"y":1101,"t":"control"}]},"mark":{"type":"text","style":"ttl"},"encoding":{"text":{"field":"t"}}},
{"data":{"values":[{"x":82,"y":946,"t":"FL1-H, SSC-H subset"},{"x":82,"y":873,"t":"68.8%"}]},"mark":{"type":"text","style":"sub"},"encoding":{"text":{"field":"t"}}}]},
{"encoding":{"x":{"field":"x","type":"quantitative","scale":{"type":"log","domain":[0.56,14000],"range":[365,522.3]},"axis":{"orient":"bottom","offset":-39.3,"style":"flow","values":[1,2,3,4,5,6,7,8,9,10,20,30,40,50,60,70,80,90,100,200,300,400,500,600,700,800,900,1000,2000,3000,4000,5000,6000,7000,8000,9000,10000],"labelOverlap":false,"labelFontSize":9,"labelPadding":3,"labelExpr":"datum.value==1?'10⁰':datum.value==10?'10¹':datum.value==100?'10²':datum.value==1000?'10³':datum.value==10000?'10⁴':''","tickSize":{"condition":{"test":"indexof([1,10,100,1000,10000],datum.value)>=0","value":5},"value":2},"title":"FL1-H","titleY":34}},"y":{"field":"y","type":"quantitative","scale":{"domain":[-18,1030],"range":[1234.7,1079.7],"nice":false},"axis":{"orient":"left","offset":-365,"style":"flow","values":[0,50,100,150,200,250,300,350,400,450,500,550,600,650,700,750,800,850,900,950,1000],"labelExpr":"datum.value==1000?'1K':datum.value%200==0?datum.label:''","labelOverlap":false,"tickSize":{"condition":{"test":"datum.value%200==0","value":5},"value":2},"title":"SSC-H","titleX":-34}}},
"layer":[{"data":{"name":"f1"},"mark":{"type":"point","filled":true,"shape":"square","size":150,"opacity":0.85},"encoding":{"color":{"field":"d","type":"ordinal","scale":{"domain":[1,2,3,4,5,6,7],"range":["#d0d0f8","#6a70e6","#2f8fc8","#2cb89a","#8cc63c","#e0781c","#e02010"]},"legend":null},"order":{"field":"d"}}},
{"data":{"values":[{"x":21,"x2":12000,"y":5,"y2":720}]},"mark":{"type":"rect","style":"gate"},"encoding":{"x2":{"field":"x2"},"y2":{"field":"y2"}}},
{"data":{"values":[{"x":0.56,"x2":14000,"y":-18,"y2":1030}]},"mark":{"type":"rect","style":"frame"},"encoding":{"x2":{"field":"x2"},"y2":{"field":"y2"}}},
{"data":{"values":[{"x":166,"y":1097,"t":"sh-lnc-MxA #1"}]},"mark":{"type":"text","style":"ttl"},"encoding":{"text":{"field":"t"}}},
{"data":{"values":[{"x":86,"y":946,"t":"FL1-H, SSC-H subset"},{"x":86,"y":873,"t":"20.6%"}]},"mark":{"type":"text","style":"sub"},"encoding":{"text":{"field":"t"}}}]},
{"encoding":{"x":{"field":"x","type":"quantitative","scale":{"type":"log","domain":[0.56,14000],"range":[606.7,763.7]},"axis":{"orient":"bottom","offset":-39.3,"style":"flow","values":[1,2,3,4,5,6,7,8,9,10,20,30,40,50,60,70,80,90,100,200,300,400,500,600,700,800,900,1000,2000,3000,4000,5000,6000,7000,8000,9000,10000],"labelOverlap":false,"labelFontSize":9,"labelPadding":3,"labelExpr":"datum.value==1?'10⁰':datum.value==10?'10¹':datum.value==100?'10²':datum.value==1000?'10³':datum.value==10000?'10⁴':''","tickSize":{"condition":{"test":"indexof([1,10,100,1000,10000],datum.value)>=0","value":5},"value":2},"title":"FL1-H","titleY":34}},"y":{"field":"y","type":"quantitative","scale":{"domain":[-18,1030],"range":[1234.7,1079.7],"nice":false},"axis":{"orient":"left","offset":-606.7,"style":"flow","values":[0,50,100,150,200,250,300,350,400,450,500,550,600,650,700,750,800,850,900,950,1000],"labelExpr":"datum.value==1000?'1K':datum.value%200==0?datum.label:''","labelOverlap":false,"tickSize":{"condition":{"test":"datum.value%200==0","value":5},"value":2},"title":"SSC-H","titleX":-34}}},
"layer":[{"data":{"name":"f2"},"mark":{"type":"point","filled":true,"shape":"square","size":150,"opacity":0.85},"encoding":{"color":{"field":"d","type":"ordinal","scale":{"domain":[1,2,3,4,5,6,7],"range":["#d0d0f8","#6a70e6","#2f8fc8","#2cb89a","#8cc63c","#e0781c","#e02010"]},"legend":null},"order":{"field":"d"}}},
{"data":{"values":[{"x":20,"x2":12000,"y":5,"y2":720}]},"mark":{"type":"rect","style":"gate"},"encoding":{"x2":{"field":"x2"},"y2":{"field":"y2"}}},
{"data":{"values":[{"x":0.56,"x2":14000,"y":-18,"y2":1030}]},"mark":{"type":"rect","style":"frame"},"encoding":{"x2":{"field":"x2"},"y2":{"field":"y2"}}},
{"data":{"values":[{"x":134,"y":1097,"t":"sh-lnc-MxA #2"}]},"mark":{"type":"text","style":"ttl"},"encoding":{"text":{"field":"t"}}},
{"data":{"values":[{"x":82,"y":946,"t":"FL1-H, SSC-H subset"},{"x":82,"y":873,"t":"42.0%"}]},"mark":{"type":"text","style":"sub"},"encoding":{"text":{"field":"t"}}}]}
],
"resolve":{"scale":{"x":"independent","y":"independent","color":"independent","xOffset":"independent"},"axis":{"x":"independent","y":"independent"},"legend":{"color":"independent"}}}
